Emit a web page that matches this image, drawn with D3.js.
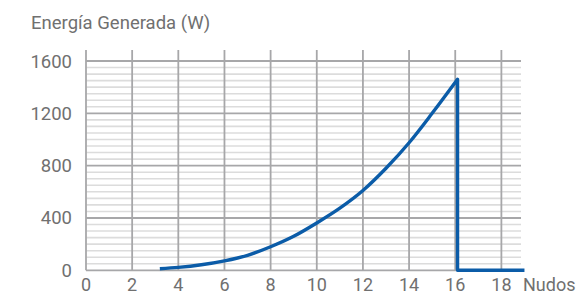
<!DOCTYPE html>
<html>
<head>
<meta charset="utf-8">
<script src="https://cdn.jsdelivr.net/npm/d3@7"></script>
<style>
  body { margin: 0; background: #ffffff; }
  svg text { font-family: Roboto, "Noto Sans", sans-serif; fill: #707070; }
</style>
</head>
<body>
<div id="main"></div>
<script>
// wind speed (knots) vs generated power (W)
const speeds = [3.2, 4, 5, 6, 7, 8, 9, 10, 11, 12, 13, 14, 15, 16.1];
const power  = [12, 22, 42, 72, 115, 180, 260, 362, 475, 610, 780, 975, 1200, 1460];
// cut-off: the output drops to zero and stays there
const cutSpeeds = [16.1, 16.1, 19];
const cutPower  = [1460, 0, 0];
const xTicks = [0, 2, 4, 6, 8, 10, 12, 14, 16, 18];
const yTicks = [0, 400, 800, 1200, 1600];
const yMinor = d3.range(0, 1601, 50).filter(v => v % 400 !== 0);

const ctx = {
    width : 577,
    height : 295,
    majorGrey : "#a7a7a9",
    minorGrey : "#dcdcdc",
    lineBlue : "#0b5ca8"
};

function createViz(){
    let svg = d3.select("#main").append("svg")
        .attr("width", ctx.width)
        .attr("height", ctx.height);

    let x = d3.scaleLinear().domain([0, 18.85]).range([86, 521]);
    let y = d3.scaleLinear().domain([0, 1600]).range([270.3, 61]);
    let gridTop = 50;

    let grid = svg.append("g");
    grid.selectAll(".minor").data(yMinor).enter().append("line")
        .attr("x1", x(0)).attr("x2", x(18.85))
        .attr("y1", d => y(d)).attr("y2", d => y(d))
        .attr("stroke", ctx.minorGrey).attr("stroke-width", 1.6);
    grid.selectAll(".major").data(yTicks).enter().append("line")
        .attr("x1", x(0)).attr("x2", x(18.85))
        .attr("y1", d => y(d)).attr("y2", d => y(d))
        .attr("stroke", ctx.majorGrey).attr("stroke-width", 1.8);
    grid.selectAll(".vert").data(xTicks).enter().append("line")
        .attr("x1", d => x(d)).attr("x2", d => x(d))
        .attr("y1", gridTop).attr("y2", y(0))
        .attr("stroke", ctx.majorGrey).attr("stroke-width", 1.8);

    // tick labels
    svg.append("g").selectAll("text").data(yTicks).enter().append("text")
        .attr("x", 72)
        .attr("y", d => y(d) + 6.5)
        .attr("text-anchor", "end")
        .attr("font-size", "18.5px")
        .text(d => d);
    svg.append("g").selectAll("text").data(xTicks).enter().append("text")
        .attr("x", d => x(d))
        .attr("y", 291)
        .attr("text-anchor", "middle")
        .attr("font-size", "18px")
        .text(d => d);

    svg.append("text")
        .attr("x", 523).attr("y", 291)
        .attr("font-size", "18px")
        .text("Nudos");
    svg.append("text")
        .attr("x", 31).attr("y", 29)
        .attr("font-size", "18.5px")
        .text("Energía Generada (W)");

    let curve = d3.line().x(d => x(d[0])).y(d => y(d[1])).curve(d3.curveMonotoneX);
    let straight = d3.line().x(d => x(d[0])).y(d => y(d[1]));
    let pathD = curve(speeds.map((s, i) => [s, power[i]]))
        + straight(cutSpeeds.map((s, i) => [s, cutPower[i]])).replace(/^M/, "L");
    svg.append("path")
        .attr("d", pathD)
        .attr("fill", "none")
        .attr("stroke", ctx.lineBlue)
        .attr("stroke-width", 3.4)
        .attr("stroke-linejoin", "round")
        .attr("stroke-linecap", "butt");
}

createViz();
</script>
</body>
</html>
